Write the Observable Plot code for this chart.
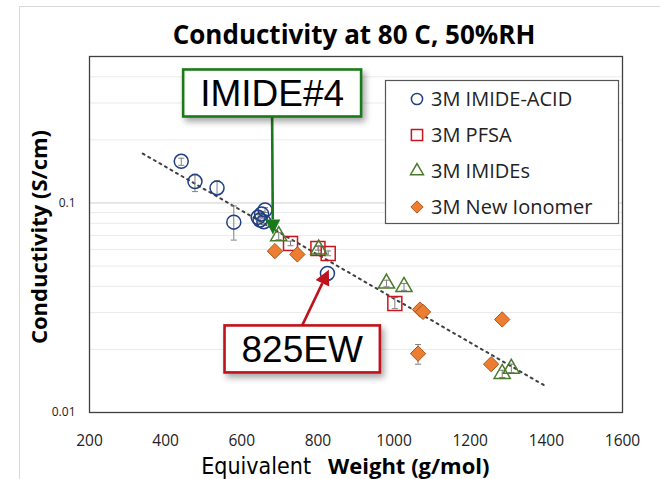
<!DOCTYPE html>
<html>
<head>
<meta charset="utf-8">
<script src="https://cdn.jsdelivr.net/npm/d3@7"></script>
<script src="https://cdn.jsdelivr.net/npm/@observablehq/plot@0.6"></script>
<style>
  html, body { margin: 0; padding: 0; background: #fff; }
  #chart { position: relative; width: 660px; height: 479px; overflow: hidden; }
  #chart .chart-border { position: absolute; left: 19px; top: 6px; width: 700px; height: 600px; border: 1px solid #d9d9d9; }
  #chart svg { position: absolute; left: 0; top: 0; }
</style>
</head>
<body>
<div id="chart"><div class="chart-border"></div></div>
<script>
// ---- axis ticks ----
const xTicks = [200, 400, 600, 800, 1000, 1200, 1400, 1600];
const xTickLabels = ["200", "400", "600", "800", "1000", "1200", "1400", "1600"];
const yTicks = [0.01, 0.1];
const yTickLabels = ["0.01", "0.1"];
const yGridMinor = [0.02, 0.03, 0.04, 0.05, 0.06, 0.07, 0.08, 0.09, 0.2, 0.3, 0.4, 0.5];

// ---- 3M IMIDE-ACID ----
const acidEW = [441, 477, 535, 579, 643, 648, 652, 658, 661, 825];
const acidS  = [0.158, 0.1265, 0.118, 0.081, 0.0854, 0.083, 0.0886, 0.0814, 0.0926, 0.0461];
const acidLo = [0.1512, 0.1133, 0.110, 0.0665, 0.083, 0.081, 0.086, 0.079, 0.090, 0.0461];
const acidHi = [0.1635, 0.1372, 0.1275, 0.0967, 0.088, 0.085, 0.091, 0.084, 0.095, 0.0461];

// ---- 3M PFSA ----
const pfsaEW = [728, 800, 827, 1002];
const pfsaS  = [0.0641, 0.0607, 0.0574, 0.0331];
const pfsaLo = [0.0625, 0.0595, 0.0560, 0.0313];
const pfsaHi = [0.0657, 0.0620, 0.0590, 0.0354];

// ---- 3M IMIDEs ----
const imideEW = [697, 802, 980, 1026, 1284, 1308];
const imideS  = [0.0695, 0.0600, 0.0413, 0.0398, 0.0153, 0.0162];
const imideLo = [0.0668, 0.0575, 0.0398, 0.0383, 0.0147, 0.0155];
const imideHi = [0.0722, 0.0625, 0.0428, 0.0413, 0.0159, 0.0170];

// ---- 3M New Ionomer ----
const newEW = [687, 746, 1063, 1068, 1076, 1255, 1284];
const newS  = [0.0589, 0.0568, 0.0191, 0.0310, 0.0302, 0.0170, 0.0278];
const newLo = [0.0589, 0.0568, 0.0170, 0.0310, 0.0302, 0.0170, 0.0278];
const newHi = [0.0589, 0.0568, 0.0211, 0.0310, 0.0302, 0.0170, 0.0278];

// ---- exponential trend line (end points) ----
const trendEW = [340, 1400];
const trendS  = [0.172, 0.0133];

// ---- callouts ----
const calloutLabels = ["IMIDE#4", "825EW"];
const calloutEW = [681, 760];
const calloutS  = [0.333, 0.0200];
const targetEW  = [683, 830];
const targetS   = [0.0703, 0.0478];

// ---- series styles ----
const seriesNames = ["3M IMIDE-ACID", "3M PFSA", "3M IMIDEs", "3M New Ionomer"];
const series = [
  {ew: acidEW,  s: acidS,  lo: acidLo,  hi: acidHi,  symbol: d3.symbolCircle,   r: 7,   stroke: "#203f82", fill: "none",    sw: 1.5},
  {ew: pfsaEW,  s: pfsaS,  lo: pfsaLo,  hi: pfsaHi,  symbol: d3.symbolSquare,   r: 7.9, stroke: "#c8161e", fill: "none",    sw: 1.5},
  {ew: imideEW, s: imideS, lo: imideLo, hi: imideHi, symbol: d3.symbolTriangle, r: 6,   stroke: "#4a7a2c", fill: "none",    sw: 1.5},
  {ew: newEW,   s: newS,   lo: newLo,   hi: newHi,   symbol: d3.symbolDiamond2, r: 6.9, stroke: "#a9561c", fill: "#ed7d31", sw: 1}
].map((d, i) => ({...d, name: seriesNames[i]}));
const calloutColors = ["#1a7a1a", "#c0121c"];

const FONT = "'Open Sans', Lato, sans-serif";
const errColor = "#7f7f7f";
const capSymbol = {draw(ctx) { ctx.moveTo(-3, 0); ctx.lineTo(3, 0); }};

const trend = trendEW.map((ew, i) => ({ew, s: trendS[i]}));

const seriesMarks = series.flatMap(sr => {
  const pts = sr.ew.map((ew, i) => ({ew, s: sr.s[i], lo: sr.lo[i], hi: sr.hi[i]}));
  const err = pts.filter(d => d.hi > d.lo);
  return [
    Plot.ruleX(err, {x: "ew", y1: "lo", y2: "hi", stroke: errColor, strokeWidth: 1}),
    Plot.dot(err, {x: "ew", y: "lo", symbol: capSymbol, r: 3, stroke: errColor, fill: "none", strokeWidth: 1}),
    Plot.dot(err, {x: "ew", y: "hi", symbol: capSymbol, r: 3, stroke: errColor, fill: "none", strokeWidth: 1}),
    Plot.dot(pts, {x: "ew", y: "s", symbol: sr.symbol, r: sr.r, stroke: sr.stroke, fill: sr.fill, strokeWidth: sr.sw})
  ];
});

// callout boxes with arrows pointing at a data location
function callouts(index, scales) {
  const g = d3.create("svg:g");
  const ctx = document.createElement("canvas").getContext("2d");
  ctx.font = "37px 'Liberation Sans'";
  calloutLabels.forEach((label, i) => {
    const color = calloutColors[i];
    const cx = scales.x(calloutEW[i]), cy = scales.y(calloutS[i]);
    const tx = scales.x(targetEW[i]), ty = scales.y(targetS[i]);
    const w = ctx.measureText(label).width + 34, h = 47;
    const sy = ty > cy ? cy + h / 2 : cy - h / 2;
    const ang = Math.atan2(ty - sy, tx - cx);
    const hl = 15, hw = 7.5;
    const bx = tx - hl * Math.cos(ang), by = ty - hl * Math.sin(ang);
    g.append("line").attr("x1", cx).attr("y1", sy).attr("x2", bx).attr("y2", by)
      .attr("stroke", color).attr("stroke-width", 2.6);
    g.append("path")
      .attr("d", `M${tx},${ty}L${bx - hw * Math.sin(ang)},${by + hw * Math.cos(ang)}L${bx + hw * Math.sin(ang)},${by - hw * Math.cos(ang)}Z`)
      .attr("fill", color);
    g.append("rect").attr("x", cx - w / 2).attr("y", cy - h / 2).attr("width", w).attr("height", h)
      .attr("fill", "#fff").attr("stroke", color).attr("stroke-width", 2.6)
      .style("filter", "drop-shadow(3px 4px 3px rgba(0,0,0,0.35))");
    g.append("text").attr("x", cx).attr("y", cy).attr("dy", "0.36em")
      .attr("text-anchor", "middle").attr("font-family", "'Liberation Sans', Arial, sans-serif")
      .attr("font-size", 37).attr("fill", "#000").text(label);
  });
  return g.node();
}

// legend box in the upper right of the plot area
function legend(index, scales, values, dims) {
  const g = d3.create("svg:g");
  const right = dims.width - dims.marginRight;
  const x0 = right - 237, y0 = dims.marginTop + 24;
  g.append("rect").attr("x", x0 + 0.5).attr("y", y0 + 0.5).attr("width", 233).attr("height", 143)
    .attr("fill", "#fff").attr("stroke", "#555").attr("stroke-width", 1.2);
  series.forEach((sr, i) => {
    const yy = y0 + 19 + 36 * i;
    g.append("path").attr("transform", `translate(${x0 + 32},${yy})`)
      .attr("d", d3.symbol(sr.symbol, Math.PI * (sr.r * 0.8) ** 2)())
      .attr("fill", sr.fill).attr("stroke", sr.stroke).attr("stroke-width", sr.sw);
    g.append("text").attr("x", x0 + 46).attr("y", yy).attr("dy", "0.36em")
      .attr("text-anchor", "start")
      .attr("font-family", FONT).attr("font-size", 20).attr("fill", "#222").text(sr.name);
  });
  return g.node();
}

const chart = Plot.plot({
  width: 660,
  height: 479,
  marginLeft: 89,
  marginRight: 38,
  marginTop: 56,
  marginBottom: 67,
  style: {fontFamily: FONT, background: "transparent"},
  x: {type: "linear", domain: [200, 1600], label: null},
  y: {type: "log", domain: [0.01, 0.5], label: null},
  marks: [
    Plot.ruleY(yGridMinor, {stroke: "#ebebeb", strokeWidth: 1}),
    Plot.ruleY([0.1], {stroke: "#cfcfcf", strokeWidth: 1}),
    Plot.axisX({ticks: xTicks, tickFormat: d => xTickLabels[xTicks.indexOf(d)], tickSize: 0, tickPadding: 22, fontSize: 15.5, fill: "#222", label: null}),
    Plot.axisY({ticks: yTicks, tickFormat: d => yTickLabels[yTicks.indexOf(d)], tickSize: 0, tickPadding: 14, fontSize: 12, fill: "#222", label: null}),
    Plot.line(trend, {x: "ew", y: "s", stroke: "#404040", strokeWidth: 2, strokeDasharray: "2 4.4"}),
    ...seriesMarks,
    Plot.frame({stroke: "#404040", strokeWidth: 1.3}),
    callouts,
    legend,
    Plot.text(["Conductivity at 80 C, 50%RH"], {frameAnchor: "top", dx: -2, dy: -13, lineAnchor: "bottom", fontSize: 26, fontWeight: "bold", fill: "#000"}),
    Plot.text(["Conductivity (S/cm)"], {frameAnchor: "left", textAnchor: "middle", dx: -50, dy: 2.5, rotate: -90, lineAnchor: "middle", fontSize: 22, fontWeight: "bold", fill: "#000"}),
    Plot.text(["Equivalent"], {frameAnchor: "bottom", textAnchor: "end", dx: -45, dy: 61, lineAnchor: "bottom", fontSize: 23, fontFamily: "'Liberation Sans Narrow', 'DejaVu Sans Condensed', sans-serif", fill: "#000"}),
    Plot.text(["Weight (g/mol)"], {frameAnchor: "bottom", textAnchor: "start", dx: -28, dy: 61, lineAnchor: "bottom", fontSize: 22, fontWeight: "bold", fill: "#000"})
  ]
});
document.getElementById("chart").appendChild(chart);
</script>
</body>
</html>
